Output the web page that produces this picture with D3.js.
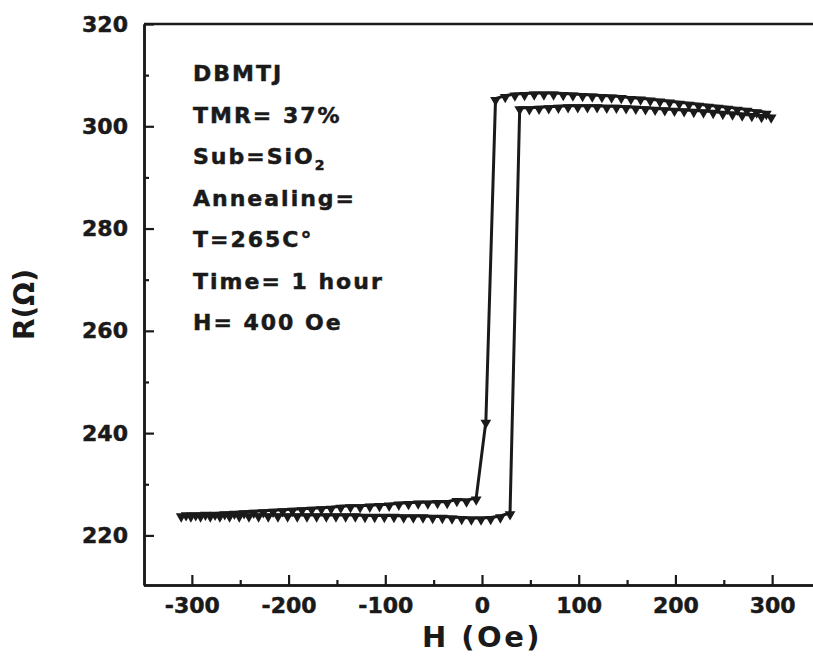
<!DOCTYPE html>
<html>
<head>
<meta charset="utf-8">
<script src="https://cdn.jsdelivr.net/npm/d3@7/dist/d3.min.js"></script>
<style>
  html, body { margin: 0; padding: 0; background: #fff; }
  svg { display: block; }
  text { font-family: "DejaVu Sans", "Liberation Sans", Arial, sans-serif; fill: #1a1a1a; }
</style>
</head>
<body>
<svg id="chart" width="813" height="658"></svg>
<script>
// Field sweep from +H down to -H (upper branch)
const fieldDown = [294, 284, 274, 264, 254, 244, 234, 224, 214, 204, 194, 184, 174, 164, 154, 144, 134, 124, 114, 104,
  94, 84, 74, 64, 54, 44, 34, 24, 14, 4, -6, -16, -26, -36, -46, -56, -66, -76, -86, -96,
  -106, -116, -126, -136, -146, -156, -166, -176, -186, -196, -206, -216, -226, -236, -246, -256, -266, -276, -286, -296, -306];
const resDown = [302.7, 303.0, 303.3, 303.5, 303.7, 303.9, 304.1, 304.3, 304.5, 304.7, 304.9, 305.1, 305.3, 305.5, 305.6, 305.8, 305.9, 306.0, 306.1, 306.2,
  306.3, 306.4, 306.5, 306.5, 306.5, 306.4, 306.3, 306.0, 305.4, 242.3, 227.3, 226.9, 227.0, 226.6, 226.6, 226.5, 226.5, 226.4, 226.3, 226.1,
  226.0, 225.9, 225.8, 225.8, 225.7, 225.5, 225.4, 225.3, 225.2, 225.1, 225.0, 224.9, 224.8, 224.7, 224.6, 224.5, 224.4, 224.3, 224.3, 224.2, 224.2];

// Field sweep from -H up to +H (lower branch)
const fieldUp = [-311, -301, -291, -281, -271, -261, -251, -241, -231, -221, -211, -201, -191, -181, -171, -161, -151, -141, -131, -121,
  -111, -101, -91, -81, -71, -61, -51, -41, -31, -21, -11, -1, 9, 19, 29, 39, 49, 59, 69, 79,
  89, 99, 109, 119, 129, 139, 149, 159, 169, 179, 189, 199, 209, 219, 229, 239, 249, 259, 269, 279, 289, 299];
const resUp = [224.0, 224.0, 224.0, 224.0, 224.0, 224.0, 224.0, 224.0, 224.0, 224.0, 224.0, 224.0, 224.0, 224.0, 224.0, 224.0, 224.0, 224.0, 224.0, 223.9,
  223.9, 223.9, 223.9, 223.8, 223.8, 223.8, 223.7, 223.7, 223.6, 223.5, 223.4, 223.4, 223.5, 223.8, 224.4, 303.6, 303.6, 303.7, 303.8, 303.9,
  304.0, 304.0, 304.0, 304.0, 303.9, 303.9, 303.8, 303.7, 303.6, 303.5, 303.4, 303.3, 303.2, 303.1, 303.0, 302.9, 302.7, 302.6, 302.4, 302.3, 302.1, 302.0];

const xMajorTicks = [-300, -200, -100, 0, 100, 200, 300];
const xMinorTicks = [-250, -150, -50, 50, 150, 250];
const yMajorTicks = [220, 240, 260, 280, 300, 320];
const yMinorTicks = [230, 250, 270, 290, 310];

const infoLines = ["DBMTJ", "TMR= 37%", "Sub=SiO|2", "Annealing=", "T=265C°", "Time= 1 hour", "H= 400 Oe"];

const ink = "#1a1a1a";
const svg = d3.select("#chart");
const plotLeft = 144, plotRight = 820.5, plotTop = 24, plotBottom = 585;

const x = d3.scaleLinear().domain([-350, 350]).range([plotLeft - 0.5, plotRight]);
const y = d3.scaleLinear().domain([210.3, 320]).range([plotBottom, plotTop]);

// Frame: top line
svg.append("line").attr("x1", plotLeft).attr("x2", 813).attr("y1", plotTop).attr("y2", plotTop)
  .attr("stroke", ink).attr("stroke-width", 2.5);

// Left axis, ticks pointing inward
svg.append("g").attr("transform", `translate(${plotLeft},0)`)
  .call(d3.axisLeft(y).tickValues(yMajorTicks).tickSizeInner(-10).tickSizeOuter(0).tickPadding(16).tickFormat(d3.format("d")));
svg.append("g").attr("transform", `translate(${plotLeft},0)`)
  .call(d3.axisLeft(y).tickValues(yMinorTicks).tickSizeInner(-5).tickSizeOuter(0).tickFormat(""));

// Bottom axis, ticks pointing inward
svg.append("g").attr("transform", `translate(0,${plotBottom})`)
  .call(d3.axisBottom(x).tickValues(xMajorTicks).tickSizeInner(-10).tickSizeOuter(0).tickPadding(12)
    .tickFormat(d => d < 0 ? "-" + Math.abs(d) : String(d)));
svg.append("g").attr("transform", `translate(0,${plotBottom})`)
  .call(d3.axisBottom(x).tickValues(xMinorTicks).tickSizeInner(-5).tickSizeOuter(0).tickFormat(""));

svg.selectAll(".domain").attr("stroke", ink).attr("stroke-width", 2.5);
svg.selectAll(".tick line").attr("stroke", ink).attr("stroke-width", 2.2);
svg.selectAll(".tick text").attr("font-size", 22).attr("font-weight", "bold")
  .attr("font-family", "'DejaVu Sans', sans-serif").attr("fill", ink)
  .attr("stroke", ink).attr("stroke-width", 0.5);

// Axis titles
svg.append("text").attr("x", x(0)).attr("y", 647).attr("text-anchor", "middle")
  .attr("font-size", 29).attr("font-weight", "bold").attr("letter-spacing", 2.5).text("H (Oe)");
svg.append("text").attr("transform", `translate(34,${(plotTop + plotBottom) / 2}) rotate(-90)`)
  .attr("text-anchor", "middle").attr("font-size", 28).attr("font-weight", "bold").text("R(Ω)");

// Measurement branches
const line = d3.line().x(d => x(d[0])).y(d => y(d[1]));
const branches = [
  d3.zip(fieldDown, resDown),
  d3.zip(fieldUp, resUp)
];
const tri = d3.symbol().type(d3.symbolTriangle).size(50);

branches.forEach(pts => {
  svg.append("path").datum(pts).attr("d", line)
    .attr("fill", "none").attr("stroke", ink).attr("stroke-width", 3);
  svg.append("g").selectAll("path").data(pts).join("path")
    .attr("d", tri)
    .attr("transform", d => `translate(${x(d[0])},${y(d[1]) + 1.5}) rotate(180)`)
    .attr("fill", ink);
});

// Sample information block
const info = svg.append("g").attr("font-size", 22).attr("font-weight", "bold").attr("letter-spacing", 2)
  .attr("stroke", ink).attr("stroke-width", 0.5);
infoLines.forEach((t, i) => {
  const tx = info.append("text").attr("x", 193).attr("y", 81 + i * 41.5);
  const parts = t.split("|");
  tx.append("tspan").text(parts[0]);
  if (parts[1]) {
    tx.append("tspan").attr("font-size", 14).attr("dy", 6).text(parts[1]);
  }
});
</script>
</body>
</html>
